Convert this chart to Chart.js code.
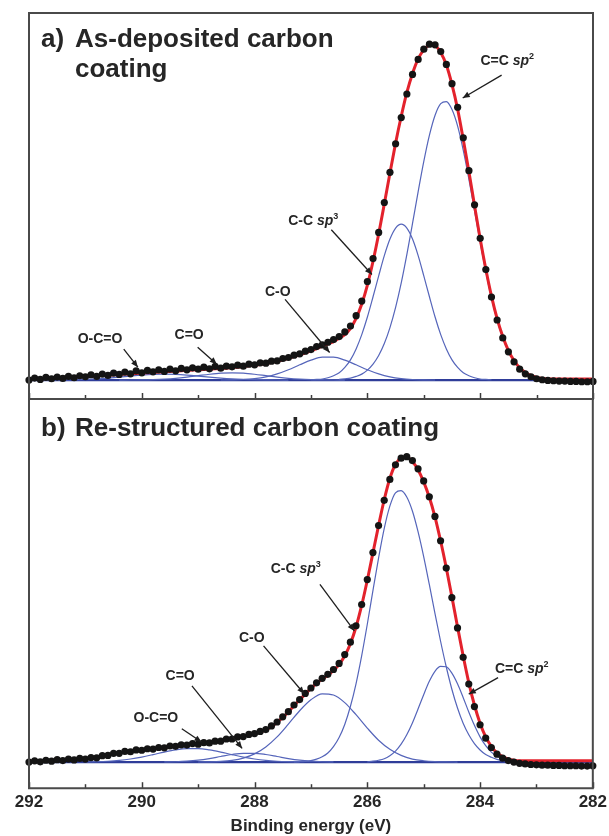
<!DOCTYPE html>
<html lang="en">
<head>
<meta charset="UTF-8">
<title>C 1s spectra of carbon coatings</title>
<script src="https://cdn.jsdelivr.net/npm/chart.js"></script>
<style>
  body { margin: 0; background: #fff; width: 609px; height: 836px; position: relative; overflow: hidden; }
  #chartA { position: absolute; left: 0; top: 0; }
  #chartB { position: absolute; left: 0; top: 398px; }
</style>
</head>
<body>
<canvas id="chartA" width="609" height="403"></canvas>
<canvas id="chartB" width="611" height="439"></canvas>
<script>
// binding energy grid of the measured spectra (eV)
const energy = [
  292.0, 291.9, 291.8, 291.7, 291.6, 291.5, 291.4, 291.3, 291.2, 291.1,
  291.0, 290.9, 290.8, 290.7, 290.6, 290.5, 290.4, 290.3, 290.2, 290.1,
  290.0, 289.9, 289.8, 289.7, 289.6, 289.5, 289.4, 289.3, 289.2, 289.1,
  289.0, 288.9, 288.8, 288.7, 288.6, 288.5, 288.4, 288.3, 288.2, 288.1,
  288.0, 287.9, 287.8, 287.7, 287.6, 287.5, 287.4, 287.3, 287.2, 287.1,
  287.0, 286.9, 286.8, 286.7, 286.6, 286.5, 286.4, 286.3, 286.2, 286.1,
  286.0, 285.9, 285.8, 285.7, 285.6, 285.5, 285.4, 285.3, 285.2, 285.1,
  285.0, 284.9, 284.8, 284.7, 284.6, 284.5, 284.4, 284.3, 284.2, 284.1,
  284.0, 283.9, 283.8, 283.7, 283.6, 283.5, 283.4, 283.3, 283.2, 283.1,
  283.0, 282.9, 282.8, 282.7, 282.6, 282.5, 282.4, 282.3, 282.2, 282.1,
  282.0
];

// a) as-deposited coating: measured points and envelope (normalised intensity)
const measuredA = [
  0.000, 0.006, 0.002, 0.008, 0.004, 0.009, 0.005, 0.011, 0.007, 0.013,
  0.010, 0.016, 0.011, 0.018, 0.014, 0.021, 0.017, 0.024, 0.019, 0.028,
  0.022, 0.029, 0.025, 0.031, 0.026, 0.033, 0.028, 0.035, 0.031, 0.037,
  0.033, 0.039, 0.034, 0.041, 0.036, 0.042, 0.040, 0.045, 0.042, 0.048,
  0.046, 0.052, 0.051, 0.057, 0.058, 0.065, 0.068, 0.075, 0.079, 0.087,
  0.092, 0.101, 0.106, 0.114, 0.122, 0.131, 0.145, 0.163, 0.194, 0.238,
  0.297, 0.366, 0.445, 0.535, 0.626, 0.712, 0.791, 0.862, 0.921, 0.966,
  0.997, 1.012, 1.010, 0.990, 0.951, 0.893, 0.822, 0.730, 0.631, 0.528,
  0.427, 0.333, 0.250, 0.181, 0.127, 0.085, 0.055, 0.033, 0.019, 0.010,
  0.004, 0.001, -0.001, -0.002, -0.003, -0.003, -0.004, -0.004, -0.005, -0.005,
  -0.004
];
const fitA = [
  0.002, 0.003, 0.004, 0.005, 0.006, 0.006, 0.007, 0.008, 0.009, 0.010,
  0.011, 0.012, 0.013, 0.014, 0.015, 0.016, 0.017, 0.018, 0.019, 0.020,
  0.021, 0.022, 0.023, 0.024, 0.025, 0.026, 0.027, 0.028, 0.029, 0.030,
  0.031, 0.032, 0.033, 0.034, 0.035, 0.036, 0.038, 0.039, 0.041, 0.043,
  0.045, 0.047, 0.050, 0.053, 0.057, 0.061, 0.066, 0.071, 0.076, 0.082,
  0.088, 0.095, 0.102, 0.109, 0.116, 0.126, 0.137, 0.156, 0.186, 0.229,
  0.286, 0.358, 0.440, 0.531, 0.624, 0.714, 0.795, 0.867, 0.924, 0.968,
  0.995, 1.009, 1.007, 0.987, 0.949, 0.890, 0.816, 0.725, 0.628, 0.525,
  0.425, 0.334, 0.253, 0.185, 0.131, 0.089, 0.059, 0.037, 0.023, 0.014,
  0.008, 0.005, 0.004, 0.003, 0.003, 0.003, 0.003, 0.003, 0.003, 0.003,
  0.003
];
// a) fitted components
const sp2A = [0.002, 0.004, 0.006, 0.011, 0.018, 0.030, 0.048, 0.074, 0.110, 0.158,
  0.219, 0.293, 0.379, 0.472, 0.568, 0.659, 0.738, 0.798, 0.833, 0.839,
  0.815, 0.765, 0.692, 0.605, 0.510, 0.415, 0.326, 0.247, 0.181, 0.128,
  0.087, 0.057, 0.036, 0.022, 0.013, 0.008, 0.004, 0.002, 0.001];          // from 286.5 eV
const sp3A = [0.001, 0.002, 0.003, 0.007, 0.013, 0.022, 0.038, 0.061, 0.094, 0.137,
  0.190, 0.251, 0.314, 0.375, 0.425, 0.458, 0.470, 0.458, 0.425, 0.375,
  0.314, 0.251, 0.190, 0.137, 0.094, 0.061, 0.038, 0.022, 0.013, 0.007,
  0.003, 0.002, 0.001];                                                     // from 287.0 eV
const coEnergyA = [288.6, 288.4, 288.2, 288.0, 287.8, 287.6, 287.4, 287.2, 287.0, 286.8,
  286.6, 286.4, 286.2, 286.0, 285.8, 285.6, 285.4, 285.2, 285.0, 284.8];
const coA = [0.0002, 0.0006, 0.0017, 0.0044, 0.0096, 0.0185, 0.031, 0.046, 0.060, 0.069,
  0.069, 0.060, 0.046, 0.031, 0.0185, 0.0096, 0.0044, 0.0017, 0.0006, 0.0002];
const carbonylEnergyA = [290.4, 290.2, 290.0, 289.8, 289.6, 289.4, 289.2, 289.0, 288.8, 288.6,
  288.4, 288.2, 288.0, 287.8, 287.6, 287.4, 287.2, 287.0, 286.8, 286.6, 286.4];
const carbonylA = [0.0001, 0.0002, 0.0006, 0.0014, 0.0029, 0.0053, 0.0089, 0.0132, 0.0175, 0.0208,
  0.022, 0.0208, 0.0175, 0.0132, 0.0089, 0.0053, 0.0029, 0.0014, 0.0006, 0.0002, 0.0001];
const carboxylEnergyA = [291.8, 291.6, 291.4, 291.2, 291.0, 290.8, 290.6, 290.4, 290.2, 290.0,
  289.8, 289.6, 289.4, 289.2, 289.0, 288.8, 288.6, 288.4, 288.2, 288.0, 287.8, 287.6, 287.4];
const carboxylA = [0.0001, 0.0002, 0.0005, 0.0011, 0.0022, 0.0038, 0.0061, 0.009, 0.0122, 0.0151,
  0.0172, 0.018, 0.0172, 0.0151, 0.0122, 0.009, 0.0061, 0.0038, 0.0022, 0.0011, 0.0005, 0.0002, 0.0001];

// b) re-structured coating
const measuredB = [
  0.000, 0.004, 0.001, 0.006, 0.003, 0.008, 0.005, 0.010, 0.007, 0.012,
  0.010, 0.015, 0.014, 0.021, 0.022, 0.029, 0.029, 0.035, 0.034, 0.040,
  0.039, 0.044, 0.043, 0.048, 0.047, 0.053, 0.052, 0.057, 0.056, 0.061,
  0.059, 0.064, 0.063, 0.069, 0.069, 0.076, 0.076, 0.083, 0.084, 0.091,
  0.094, 0.101, 0.107, 0.119, 0.132, 0.149, 0.166, 0.188, 0.206, 0.226,
  0.244, 0.261, 0.276, 0.289, 0.305, 0.325, 0.354, 0.395, 0.449, 0.519,
  0.601, 0.690, 0.779, 0.862, 0.931, 0.979, 1.001, 1.006, 0.993, 0.966,
  0.926, 0.874, 0.809, 0.729, 0.639, 0.542, 0.442, 0.345, 0.257, 0.183,
  0.123, 0.079, 0.048, 0.026, 0.013, 0.005, 0.000, -0.004, -0.006, -0.008,
  -0.009, -0.010, -0.010, -0.011, -0.011, -0.012, -0.012, -0.012, -0.013, -0.013,
  -0.012
];
const fitB = [
  0.002, 0.003, 0.003, 0.004, 0.005, 0.006, 0.007, 0.008, 0.009, 0.010,
  0.011, 0.013, 0.016, 0.019, 0.023, 0.027, 0.030, 0.033, 0.036, 0.038,
  0.040, 0.042, 0.044, 0.046, 0.048, 0.051, 0.053, 0.055, 0.057, 0.059,
  0.060, 0.062, 0.064, 0.067, 0.070, 0.074, 0.077, 0.081, 0.085, 0.089,
  0.094, 0.099, 0.106, 0.117, 0.131, 0.147, 0.165, 0.186, 0.205, 0.224,
  0.243, 0.259, 0.274, 0.286, 0.302, 0.321, 0.350, 0.390, 0.445, 0.516,
  0.599, 0.689, 0.779, 0.864, 0.934, 0.981, 1.001, 1.004, 0.990, 0.963,
  0.923, 0.872, 0.808, 0.729, 0.641, 0.545, 0.446, 0.350, 0.262, 0.188,
  0.128, 0.083, 0.052, 0.030, 0.018, 0.010, 0.006, 0.004, 0.004, 0.004,
  0.004, 0.004, 0.004, 0.004, 0.004, 0.004, 0.004, 0.004, 0.004, 0.004,
  0.004
];
const sp2B = [0.001, 0.003, 0.006, 0.011, 0.021, 0.036, 0.059, 0.090, 0.129, 0.175,
  0.222, 0.266, 0.299, 0.315, 0.314, 0.293, 0.258, 0.213, 0.165, 0.121,
  0.083, 0.054, 0.033, 0.019, 0.010, 0.005, 0.002, 0.001];                 // from 286.0 eV
const sp3B = [0.0006, 0.0013, 0.0026, 0.0051, 0.0097, 0.0175, 0.030, 0.051, 0.081, 0.124,
  0.183, 0.258, 0.350, 0.454, 0.565, 0.672, 0.769, 0.843, 0.887, 0.894,
  0.873, 0.827, 0.759, 0.677, 0.585, 0.490, 0.398, 0.314, 0.240, 0.178,
  0.128, 0.090, 0.061, 0.040, 0.025, 0.016, 0.009, 0.0055, 0.003, 0.0017, 0.0009]; // from 287.3 eV
const coEnergyB = [289.0, 288.8, 288.6, 288.4, 288.2, 288.0, 287.8, 287.6, 287.4, 287.2,
  287.0, 286.8, 286.6, 286.4, 286.2, 286.0, 285.8, 285.6, 285.4, 285.2, 285.0, 284.8, 284.6, 284.4];
const coB = [0.0003, 0.0008, 0.0022, 0.0057, 0.013, 0.027, 0.050, 0.083, 0.125, 0.169,
  0.205, 0.225, 0.221, 0.196, 0.156, 0.112, 0.072, 0.042, 0.022, 0.010, 0.0044, 0.0017, 0.0006, 0.0002];
const carbonylEnergyB = [289.6, 289.4, 289.2, 289.0, 288.8, 288.6, 288.4, 288.2, 288.0, 287.8,
  287.6, 287.4, 287.2, 287.0, 286.8, 286.6];
const carbonylB = [0.0004, 0.0012, 0.003, 0.0063, 0.0117, 0.0185, 0.025, 0.029, 0.029, 0.025,
  0.0185, 0.0117, 0.0063, 0.003, 0.0012, 0.0004];
const carboxylEnergyB = [291.0, 290.8, 290.6, 290.4, 290.2, 290.0, 289.8, 289.6, 289.4, 289.2,
  289.0, 288.8, 288.6, 288.4, 288.2, 288.0, 287.8, 287.6, 287.4, 287.2];
const carboxylB = [0.0005, 0.0013, 0.0028, 0.0056, 0.0101, 0.0166, 0.0246, 0.0331, 0.0403, 0.0445,
  0.0445, 0.0403, 0.0331, 0.0246, 0.0166, 0.0101, 0.0056, 0.0028, 0.0013, 0.0005];

const baselineEnergy = [292, 282];
const baselineLevel = [0, 0];
const tickValues = [292, 291, 290, 289, 288, 287, 286, 285, 284, 283, 282];

// peak labels: text anchor, arrow start and arrow tip in (eV, intensity)
const labelsA = [
  { name: 'O-C=O', at: [290.74, 0.126], from: [290.32, 0.093], to: [290.07, 0.039] },
  { name: 'C=O', at: [289.16, 0.138], from: [289.01, 0.099], to: [288.67, 0.048] },
  { name: 'C-O', at: [287.59, 0.267], from: [287.46, 0.243], to: [286.67, 0.083] },
  { name: 'C-C ', sup: '3', at: [286.96, 0.483], from: [286.64, 0.453], to: [285.92, 0.318] },
  { name: 'C=C ', sup: '2', at: [283.52, 0.964], from: [283.62, 0.919], to: [284.31, 0.85] }
];
const labelsB = [
  { name: 'O-C=O', at: [289.75, 0.150], from: [289.29, 0.110], to: [288.94, 0.066] },
  { name: 'C=O', at: [289.32, 0.288], from: [289.11, 0.251], to: [288.22, 0.045] },
  { name: 'C-O', at: [288.05, 0.412], from: [287.84, 0.383], to: [287.12, 0.225] },
  { name: 'C-C ', sup: '3', at: [287.27, 0.638], from: [286.84, 0.585], to: [286.23, 0.432] },
  { name: 'C=C ', sup: '2', at: [283.26, 0.31], from: [283.68, 0.278], to: [284.20, 0.224] }
];

const FONT = '"Liberation Sans", Arial, Helvetica, sans-serif';
const INK = '#262626';

function pair(xs, ys) {
  return ys.map((y, i) => ({ x: xs[i], y: y }));
}
function onGrid(from, values) {
  const i0 = energy.indexOf(from);
  return pair(energy.slice(i0, i0 + values.length), values);
}

// frame, inward ticks and the panel heading
const framePlugin = {
  id: 'frame',
  afterDraw(chart, args, opts) {
    const { ctx, chartArea: a } = chart;
    const x = chart.scales.x;
    ctx.save();
    ctx.strokeStyle = '#3c3c3c';
    ctx.lineWidth = 1.5;
    tickValues.forEach(v => {
      const px = Math.round(x.getPixelForValue(v)) + 0.5;
      const len = v % 2 === 0 ? 6 : 4;
      ctx.beginPath();
      ctx.moveTo(px, a.bottom);
      ctx.lineTo(px, a.bottom - len);
      ctx.stroke();
    });
    ctx.lineWidth = 2;
    ctx.strokeStyle = '#4a4a4a';
    ctx.beginPath();
    if (opts.topEdge) {
      ctx.moveTo(a.left, a.bottom);
      ctx.lineTo(a.left, a.top);
      ctx.lineTo(a.right, a.top);
      ctx.lineTo(a.right, a.bottom);
    } else {
      ctx.moveTo(a.left, a.top - 2);
      ctx.lineTo(a.left, a.bottom);
      ctx.moveTo(a.right, a.top - 2);
      ctx.lineTo(a.right, a.bottom);
    }
    ctx.moveTo(a.left - 1, a.bottom);
    ctx.lineTo(a.right + 1, a.bottom);
    ctx.stroke();

    ctx.fillStyle = INK;
    ctx.textBaseline = 'alphabetic';
    ctx.font = 'bold 26px ' + FONT;
    ctx.fillText(opts.tag, a.left + 12, a.top + 34);
    opts.lines.forEach((line, i) => {
      ctx.fillText(line, a.left + 46, a.top + 34 + i * 30);
    });
    ctx.restore();
  }
};

// component labels with arrows
const labelPlugin = {
  id: 'peakLabels',
  afterDatasetsDraw(chart, args, opts) {
    const { ctx } = chart;
    const x = chart.scales.x, y = chart.scales.y;
    ctx.save();
    opts.items.forEach(lab => {
      const x0 = x.getPixelForValue(lab.from[0]), y0 = y.getPixelForValue(lab.from[1]);
      const x1 = x.getPixelForValue(lab.to[0]), y1 = y.getPixelForValue(lab.to[1]);
      ctx.strokeStyle = '#1e1e1e';
      ctx.fillStyle = '#1e1e1e';
      ctx.lineWidth = 1.3;
      ctx.beginPath();
      ctx.moveTo(x0, y0);
      ctx.lineTo(x1, y1);
      ctx.stroke();
      const ang = Math.atan2(y1 - y0, x1 - x0);
      ctx.beginPath();
      ctx.moveTo(x1, y1);
      ctx.lineTo(x1 - 7 * Math.cos(ang) + 3 * Math.sin(ang), y1 - 7 * Math.sin(ang) - 3 * Math.cos(ang));
      ctx.lineTo(x1 - 7 * Math.cos(ang) - 3 * Math.sin(ang), y1 - 7 * Math.sin(ang) + 3 * Math.cos(ang));
      ctx.closePath();
      ctx.fill();

      const parts = [{ t: lab.name, f: 'bold 14px ' + FONT, dy: 0 }];
      if (lab.sup) {
        parts.push({ t: 'sp', f: 'italic bold 14px ' + FONT, dy: 0 });
        parts.push({ t: lab.sup, f: 'bold 9px ' + FONT, dy: -6 });
      }
      let width = 0;
      parts.forEach(p => { ctx.font = p.f; p.w = ctx.measureText(p.t).width; width += p.w; });
      let cx = x.getPixelForValue(lab.at[0]) - width / 2;
      const cy = y.getPixelForValue(lab.at[1]) + 5;
      ctx.fillStyle = INK;
      ctx.textBaseline = 'alphabetic';
      parts.forEach(p => {
        ctx.font = p.f;
        ctx.fillText(p.t, cx, cy + p.dy);
        cx += p.w;
      });
    });
    ctx.restore();
  }
};

function buildPanel(canvasId, p) {
  const blue = { borderColor: '#5565ba', borderWidth: 1.2, pointRadius: 0, order: 2, cubicInterpolationMode: 'monotone' };
  const datasets = [
    { label: 'Measured', data: pair(energy, p.measured), showLine: false, pointRadius: 3.6,
      pointBackgroundColor: '#141414', pointBorderColor: '#141414', pointBorderWidth: 0, order: 0, clip: false },
    { label: 'Fit', data: pair(energy, p.fit), borderColor: '#e3222c', borderWidth: 3,
      pointRadius: 0, order: 1, cubicInterpolationMode: 'monotone' }
  ];
  p.components.forEach(c => datasets.push(Object.assign({ label: c.name, data: c.points }, blue)));
  datasets.push({ label: 'Background', data: pair(baselineEnergy, baselineLevel), borderColor: '#2f3d99',
    borderWidth: 2.2, pointRadius: 0, order: 3 });

  return new Chart(document.getElementById(canvasId), {
    type: 'line',
    data: { datasets: datasets },
    options: {
      responsive: false,
      animation: false,
      events: [],
      layout: { padding: p.padding },
      plugins: {
        legend: { display: false },
        tooltip: { enabled: false },
        frame: { tag: p.tag, lines: p.title, topEdge: p.topEdge },
        peakLabels: { items: p.labels }
      },
      scales: {
        x: {
          type: 'linear', min: 282, max: 292, reverse: true, display: p.showAxis,
          grid: { display: false, drawTicks: false },
          border: { display: false },
          ticks: { stepSize: 2, padding: 4, color: INK, autoSkip: false, maxRotation: 0,
                   font: { family: FONT, size: 17, weight: 'bold' } },
          title: { display: true, text: 'Binding energy (eV)', color: INK,
                   font: { family: FONT, size: 17, weight: 'bold' }, padding: { top: 0, bottom: 0 } }
        },
        y: { display: false, min: p.yMin, max: p.yMax }
      }
    },
    plugins: [framePlugin, labelPlugin]
  });
}

buildPanel('chartA', {
  tag: 'a)', title: ['As-deposited carbon', 'coating'],
  measured: measuredA, fit: fitA, labels: labelsA,
  components: [
    { name: 'C=C sp2', points: onGrid(286.5, sp2A) },
    { name: 'C-C sp3', points: onGrid(287.0, sp3A) },
    { name: 'C-O', points: pair(coEnergyA, coA) },
    { name: 'C=O', points: pair(carbonylEnergyA, carbonylA) },
    { name: 'O-C=O', points: pair(carboxylEnergyA, carboxylA) }
  ],
  yMin: -0.057, yMax: 1.106, showAxis: false, topEdge: true,
  padding: { left: 29, right: 16, top: 13, bottom: 3 }
});

buildPanel('chartB', {
  tag: 'b)', title: ['Re-structured carbon coating'],
  measured: measuredB, fit: fitB, labels: labelsB,
  components: [
    { name: 'C=C sp2', points: onGrid(286.0, sp2B) },
    { name: 'C-C sp3', points: onGrid(287.3, sp3B) },
    { name: 'C-O', points: pair(coEnergyB, coB) },
    { name: 'C=O', points: pair(carbonylEnergyB, carbonylB) },
    { name: 'O-C=O', points: pair(carboxylEnergyB, carboxylB) }
  ],
  yMin: -0.086, yMax: 1.186, showAxis: true, topEdge: false,
  padding: { left: 29, right: 18, top: 2, bottom: 0 }
});
</script>
</body>
</html>
